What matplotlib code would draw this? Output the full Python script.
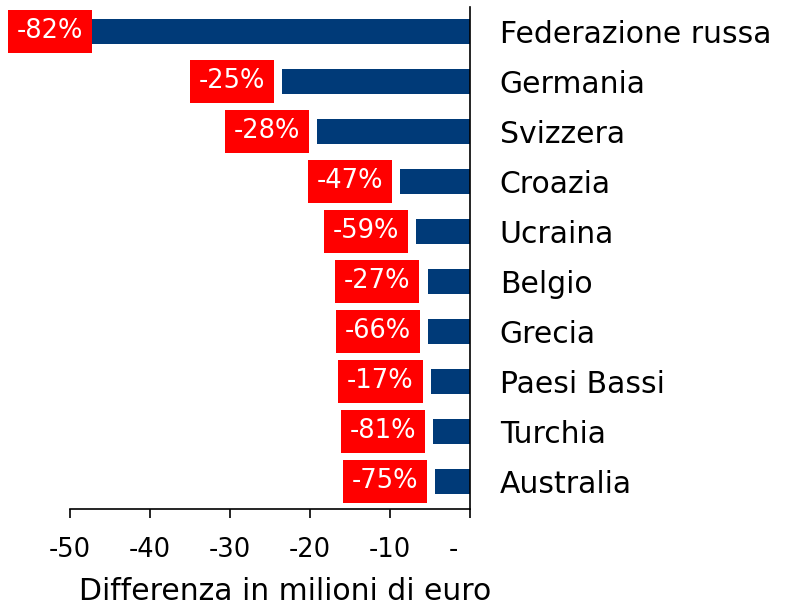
import matplotlib
matplotlib.use("Agg")
import matplotlib.pyplot as plt
from matplotlib.transforms import offset_copy

plt.rcParams['font.family'] = ['DejaVu Sans']

countries = ["Federazione russa", "Germania", "Svizzera", "Croazia", "Ucraina",
             "Belgio", "Grecia", "Paesi Bassi", "Turchia", "Australia"]
diff = [-47.5, -23.5, -19.1, -8.75, -6.7, -5.3, -5.25, -4.9, -4.6, -4.4]
pct_labels = ["-82%", "-25%", "-28%", "-47%", "-59%", "-27%", "-66%", "-17%", "-81%", "-75%"]
xticks = [-50, -40, -30, -20, -10, 0]
xtick_labels = ["-50", "-40", "-30", "-20", "-10", "-    "]

W, H = 790, 608
fig = plt.figure(figsize=(W / 100, H / 100), dpi=100)
ax = fig.add_axes([6 / W, 1 - 509 / H, 464 / W, 502 / H])

navy = "#003A78"
y = list(range(len(countries)))
ax.barh(y, diff, height=0.5, color=navy)
ax.set_xlim(-58, 0)
ax.set_ylim(len(countries) - 0.45, -0.49)

for s in ["top", "left"]:
    ax.spines[s].set_visible(False)
ax.spines["bottom"].set_bounds(-50, 0)
ax.spines["right"].set_color("black")
ax.spines["right"].set_linewidth(1.2)
ax.spines["bottom"].set_linewidth(1.2)

ax.set_xticks(xticks)
ax.set_xticklabels(xtick_labels, fontsize=18.5)
ax.tick_params(axis="x", length=6.5, width=1.2, direction="out", pad=14)

ax.yaxis.tick_right()
ax.set_yticks(y)
ax.set_yticklabels(countries, fontsize=21.5)
ax.tick_params(axis="y", length=0, pad=21.5)

fig.text(285 / W, 1 - 592 / H, "Differenza in milioni di euro", fontsize=21.5,
         ha="center", va="center")

fig.canvas.draw()
renderer = fig.canvas.get_renderer()
min_left_px = 8
for yi, v, lab in zip(y, diff, pct_labels):
    t = ax.text(v, yi, lab, ha="right", va="center", color="white", fontsize=18.5,
                transform=offset_copy(ax.transData, fig=fig, x=-17, y=0, units="dots"),
                bbox=dict(boxstyle="square,pad=0.34", fc="#FF0000", ec="none"))
    bb = t.get_window_extent(renderer)
    box_left = bb.x0 - 9
    if box_left < min_left_px:
        t.set_transform(offset_copy(ax.transData, fig=fig, x=-17 + (min_left_px - box_left), y=0, units="dots"))

fig.savefig("out.png", dpi=100)
